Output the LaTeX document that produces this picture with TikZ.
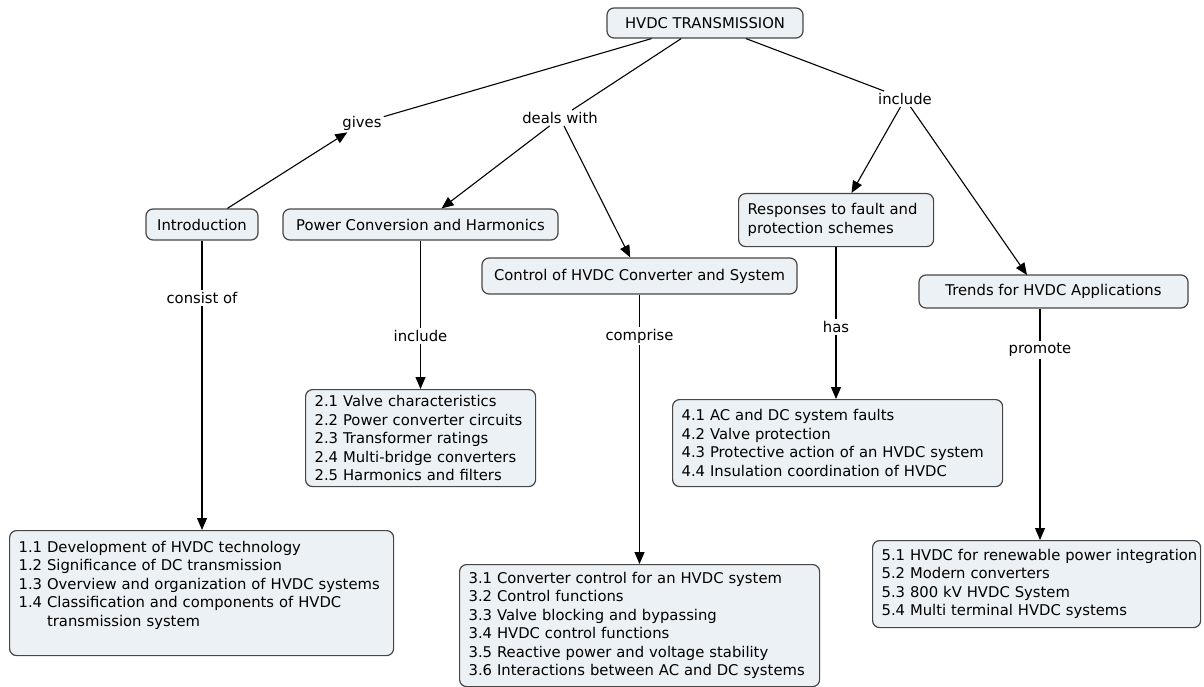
\documentclass[tikz,border=0pt]{standalone}
\usepackage{fontspec}
\setmainfont{DejaVu Sans}
\usetikzlibrary{arrows.meta}
\definecolor{boxfill}{RGB}{235,241,245}
\definecolor{boxedge}{RGB}{70,70,70}
\newcommand\bxl[1]{\mbox{#1}}
\tikzset{
  box/.style={draw=boxedge, fill=boxfill, line width=1.2pt, rounded corners=7pt,
    font=\fontsize{14.8}{18.5}\selectfont, inner xsep=9pt, inner ysep=5pt, align=left},
  lbl/.style={font=\fontsize{14.8}{18.5}\selectfont, inner sep=2pt},
  conn/.style={line width=1.1pt, draw=black},
  arr/.style={conn, -{Triangle[length=12pt,width=10pt]}}
}
\begin{document}
\begin{tikzpicture}[x=1pt,y=-1pt]
\useasboundingbox (0,0) rectangle (1204,687);
% main nodes
\node[box, minimum width=196pt, minimum height=30pt] (root) at (705,23) {HVDC TRANSMISSION};
\node[box, minimum width=112pt, minimum height=31pt] (intro) at (202,224.5) {Introduction};
\node[box, minimum width=275pt, minimum height=31pt] (power) at (420.5,224.5) {Power Conversion and Harmonics};
\node[box, minimum width=315pt, minimum height=36pt] (control) at (639.5,276) {Control of HVDC Converter and System};
\node[box, anchor=north west, text width=177pt, minimum height=53pt] (resp) at (738,193)
  {\bxl{Responses to fault and}\\\bxl{protection schemes}};
\node[box, minimum width=269pt, minimum height=33pt] (trends) at (1053.5,291.5) {Trends for HVDC Applications};
% content boxes
\node[box, anchor=north west, text width=366pt, minimum height=125pt] (b1) at (9,530)
  {\bxl{1.1 Development of HVDC technology}\\
   \bxl{1.2 Significance of DC transmission}\\
   \bxl{1.3 Overview and organization of HVDC systems}\\
   \bxl{1.4 Classification and components of HVDC}\\
   \bxl{\phantom{1.4} transmission system}\\ \mbox{}};
\node[box, anchor=north west, text width=212pt, minimum height=97pt] (b2) at (305,389)
  {\bxl{2.1 Valve characteristics}\\
   \bxl{2.2 Power converter circuits}\\
   \bxl{2.3 Transformer ratings}\\
   \bxl{2.4 Multi-bridge converters}\\
   \bxl{2.5 Harmonics and filters}};
\node[box, anchor=north west, text width=342pt, minimum height=122pt] (b3) at (459,564)
  {\bxl{3.1 Converter control for an HVDC system}\\
   \bxl{3.2 Control functions}\\
   \bxl{3.3 Valve blocking and bypassing}\\
   \bxl{3.4 HVDC control functions}\\
   \bxl{3.5 Reactive power and voltage stability}\\
   \bxl{3.6 Interactions between AC and DC systems}};
\node[box, anchor=north west, text width=312pt, minimum height=87pt] (b4) at (672,399)
  {\bxl{4.1 AC and DC system faults}\\
   \bxl{4.2 Valve protection}\\
   \bxl{4.3 Protective action of an HVDC system}\\
   \bxl{4.4 Insulation coordination of HVDC}};
\node[box, anchor=north west, text width=310pt, minimum height=87pt] (b5) at (872,540)
  {\bxl{5.1 HVDC for renewable power integration}\\
   \bxl{5.2 Modern converters}\\
   \bxl{5.3 800 kV HVDC System}\\
   \bxl{5.4 Multi terminal HVDC systems}};
% link labels
\node[lbl] (gives) at (362,123) {gives};
\node[lbl] (deals) at (560,118) {deals with};
\node[lbl] (incl) at (905,99) {include};
\node[lbl] (consist) at (202,298) {consist of};
\node[lbl] (incl2) at (420.5,336) {include};
\node[lbl] (compr) at (639.5,336) {comprise};
\node[lbl] (has) at (836,327) {has};
\node[lbl] (promo) at (1040,350) {promote};
\coordinate (ttop) at (1027,275);
% connectors
\draw[conn] (root) -- (gives);
\draw[arr] (intro) -- (gives);
\draw[conn] (root) -- (deals);
\draw[arr] (deals) -- (power);
\draw[arr] (deals) -- (control);
\draw[conn] (root) -- (incl);
\draw[arr] (incl) -- (resp);
\draw[arr] (incl) -- (ttop);
\draw[conn] (intro.south) -- (consist);
\draw[arr] (consist) -- (consist |- b1.north);
\draw[conn] (power.south) -- (incl2);
\draw[arr] (incl2) -- (incl2 |- b2.north);
\draw[conn] (control.south) -- (compr);
\draw[arr] (compr) -- (compr |- b3.north);
\draw[conn] (has |- resp.south) -- (has);
\draw[arr] (has) -- (has |- b4.north);
\draw[conn] (promo |- trends.south) -- (promo);
\draw[arr] (promo) -- (promo |- b5.north);
\end{tikzpicture}
\end{document}
